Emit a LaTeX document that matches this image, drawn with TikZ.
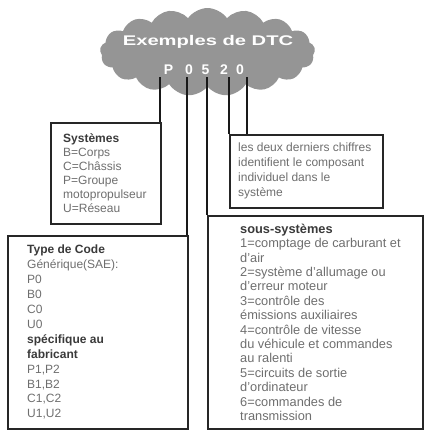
\documentclass[tikz,border=0pt]{standalone}
\usepackage{fontspec}
\usepackage{graphicx}
\setmainfont{Liberation Sans}
\usetikzlibrary{shapes.symbols}
\definecolor{cloudgray}{HTML}{959595}
\definecolor{headgray}{HTML}{3A3A3A}
\definecolor{bodygray}{HTML}{6E6E6E}
\newcommand\boxhead[1]{\textcolor{headgray}{\bfseries #1}}
\begin{document}
\begin{tikzpicture}[x=1pt,y=1pt,yscale=-1,xscale=1,
        box/.style={draw=black!85,line width=1.6pt,anchor=north west,inner sep=0pt},
        lead/.style={draw=black!90,line width=2.2pt},
        boxtext/.style={anchor=west,align=left,inner sep=0pt,text=bodygray},
        digit/.style={text=white,font=\fontsize{14}{14}\selectfont\bfseries,inner sep=0pt}]
        \useasboundingbox (0,0) rectangle (423,431);

        %Shape: Cloud [id:dtc]
        \node [cloud,cloud puffs=17,cloud puff arc=110,aspect=2.4,fill=cloudgray,minimum width=215,minimum height=88,inner sep=0pt] (dtc) at (207.5,52) {};
        % Text Node
        \node [digit] (title) at (208,42) {\scalebox{1.44}[1]{Exemples de DTC}};
        % Text Node
        \node [digit] (dP) at (168.5,70) {P};
        \node [digit] (dA) at (189,70) {0};
        \node [digit] (dB) at (205.5,70) {5};
        \node [digit] (dC) at (224,70) {2};
        \node [digit] (dD) at (240,70) {0};

        %Shape: Rectangle [id:sys]
        \node [box,minimum width=110,minimum height=101] (sys) at (50,122) {};
        %Shape: Rectangle [id:comp]
        \node [box,minimum width=153,minimum height=73] (comp) at (229,134) {};
        %Shape: Rectangle [id:type]
        \node [box,minimum width=180,minimum height=193] (type) at (7,235) {};
        %Shape: Rectangle [id:sous]
        \node [box,minimum width=215,minimum height=213] (sous) at (207,215) {};

        %Straight Lines
        \coordinate (lP) at (160,77);
        \coordinate (lA) at (187,77);
        \coordinate (lB) at (207,77);
        \coordinate (lC) at (229,77);
        \coordinate (lD) at (247,77);
        \draw [lead] (lP) -- (lP |- sys.north);
        \draw [lead,line width=2.6pt] (lA) -- (lA |- type.north);
        \draw [lead,line width=1.4pt] (lB) -- (lB |- sous.north);
        \draw [lead] (lC) -- (lC |- comp.north);
        \draw [lead] (lD) -- (lD |- comp.north);

        % Text Node
        \node [boxtext,font=\fontsize{12}{14}\selectfont] (systxt) at ([xshift=13pt]sys.west) {\boxhead{Systèmes}\\B=Corps\\C=Châssis\\P=Groupe\\motopropulseur\\U=Réseau};
        % Text Node
        \node [boxtext,font=\fontsize{12}{15}\selectfont] (comptxt) at ([xshift=9pt]comp.west) {les deux derniers chiffres\\identifient le composant\\individuel dans le\\système};
        % Text Node
        \node [boxtext,font=\fontsize{12}{14.9}\selectfont] (typetxt) at ([xshift=20pt]type.west) {\boxhead{Type de Code}\\Générique(SAE):\\P0\\B0\\C0\\U0\\\boxhead{spécifique au}\\\boxhead{fabricant}\\P1,P2\\B1,B2\\C1,C2\\U1,U2};
        % Text Node
        \node [boxtext,font=\fontsize{12.8}{14.4}\selectfont] (soustxt) at ([xshift=33pt]sous.west) {\boxhead{sous-systèmes}\\1=comptage de carburant et\\d'air\\2=système d'allumage ou\\d'erreur moteur\\3=contrôle des\\émissions auxiliaires\\4=contrôle de vitesse\\du véhicule et commandes\\au ralenti\\5=circuits de sortie\\d'ordinateur\\6=commandes de\\transmission};

\end{tikzpicture}
\end{document}
